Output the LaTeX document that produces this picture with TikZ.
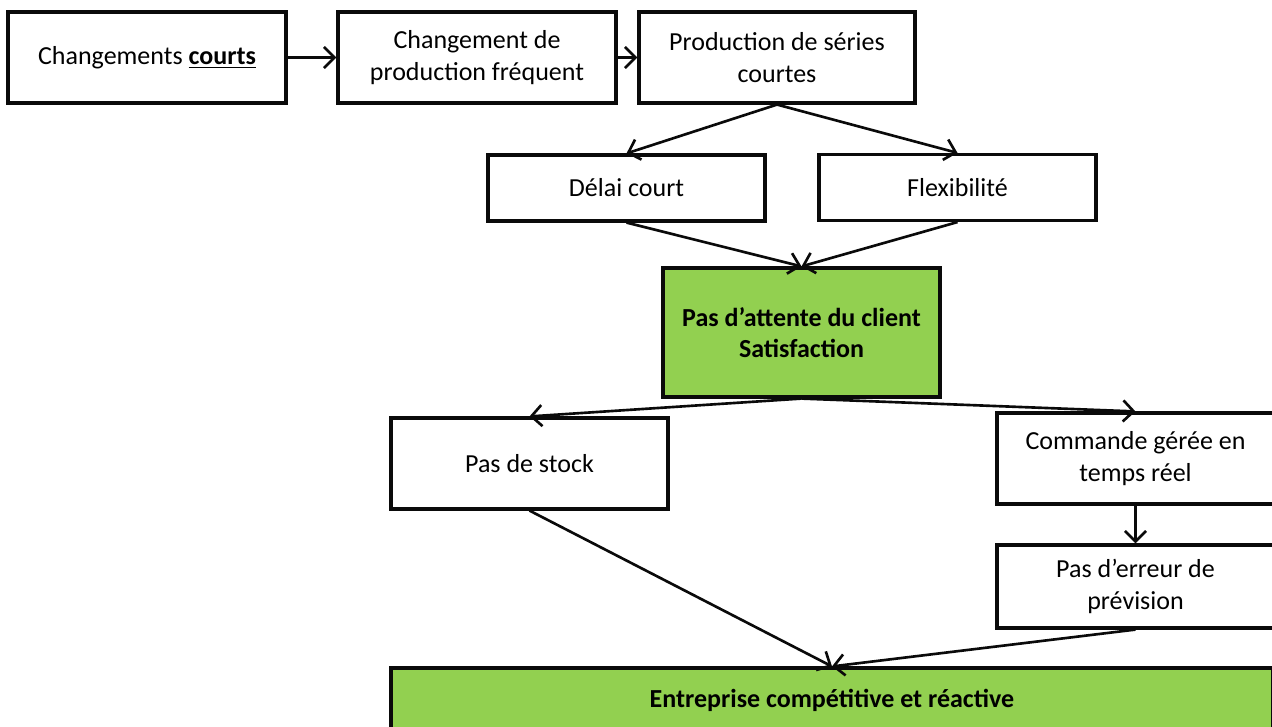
\documentclass[tikz,border=0pt]{standalone}
\usepackage{fontspec}
\setmainfont{Carlito}
\usepackage{tikz}
\usetikzlibrary{arrows.meta, positioning}
\definecolor{boxgreen}{RGB}{146,208,80}
\definecolor{edgeblack}{RGB}{10,10,10}
\tikzset{
  base/.style  = {draw=edgeblack, line width=1.8pt, align=center,
                  font=\fontsize{14.8}{17.8}\selectfont, inner sep=2pt},
  plain/.style = {base, fill=white, minimum width=277*0.02cm, minimum height=91*0.02cm},
  goal/.style  = {base, fill=boxgreen, font=\fontsize{14.8}{17.8}\selectfont\bfseries},
  arr/.style   = {-{Straight Barb[length=6pt, width=12pt, line width=1.5pt]},
                  line width=1.5pt, color=edgeblack},
}
\begin{document}
\begin{tikzpicture}[x=0.02cm, y=-0.02cm]
  \useasboundingbox (0,0) rectangle (1272,727);

  % top row
  \node[plain, minimum width=278*0.02cm] (chg)   at (147,57.5)
       {Changements \textbf{\underline{courts}}};
  \node[plain, minimum width=278*0.02cm] (freq)  at (477,57.5)
       {Changement de\\production fréquent};
  \node[plain, minimum width=276*0.02cm] (serie) at (777,57.5)
       {Production de séries\\courtes};

  \node[plain, minimum height=66*0.02cm] (delai) at (626.5,188) {Délai court};
  \node[plain, minimum height=66*0.02cm] (flex)  at (957.5,187.5) {Flexibilité};

  \node[goal, minimum width=277*0.02cm, minimum height=129*0.02cm] (client) at (801.5,332.5)
       {Pas d’attente du client\\Satisfaction};

  \node[plain]                           (stock) at (529.5,463.5) {Pas de stock};
  \node[plain]                           (cmd)   at (1135.5,458.5) {Commande gérée en\\temps réel};
  \node[plain, minimum height=83*0.02cm] (err)   at (1135.5,586.5) {Pas d’erreur de\\prévision};

  \node[goal, minimum width=882*0.02cm, minimum height=64*0.02cm] (firm) at (832,700)
       {Entreprise compétitive et réactive};

  \draw[arr] (chg) -- (freq);
  \draw[arr] (freq) -- (serie);
  \draw[arr] (serie.south) -- (delai.north);
  \draw[arr] (serie.south) -- (flex.north);
  \foreach \s in {delai,flex} \draw[arr] (\s.south) -- (client.north);
  \draw[arr] (client.south) -- (stock.north);
  \draw[arr] (client.south) -- (cmd.north);
  \draw[arr] (cmd) -- (err);
  \draw[arr] (stock.south) -- (firm.north);
  \draw[arr] (err.south) -- (firm.north);
\end{tikzpicture}
\end{document}
